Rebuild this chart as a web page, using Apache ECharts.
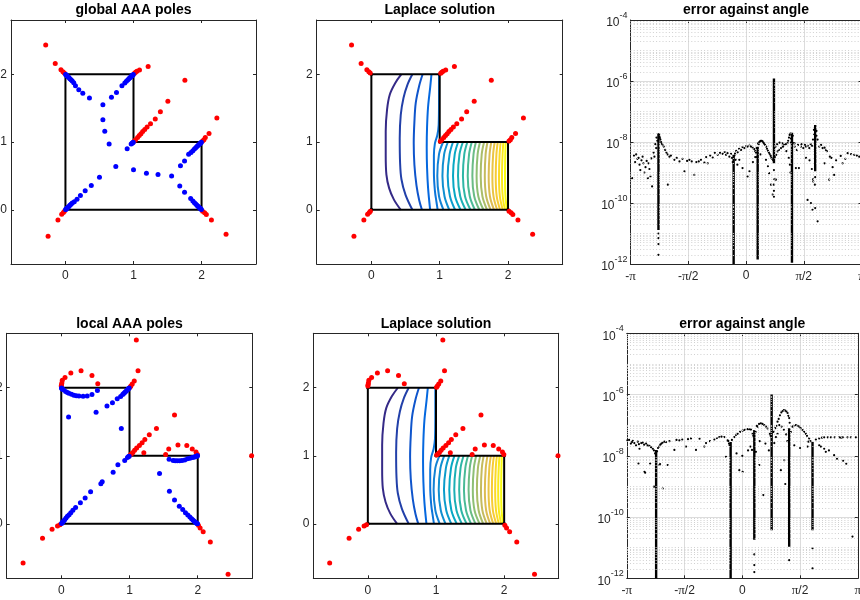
<!DOCTYPE html>
<html><head><meta charset="utf-8">
<script src="https://cdn.jsdelivr.net/npm/echarts@6/dist/echarts.min.js"></script>
<style>html,body{margin:0;padding:0;background:#fff}#c{width:860px;height:600px}</style>
</head><body><div id="c"></div>
<script>
// ---------------- data ----------------
const boundary = [[0,0],[2,0],[2,1],[1,1],[1,2],[0,2],[0,0]];
const coordTicks = [0,1,2];
const angleTicks = [-1,-0.5,0,0.5,1];            // angle / pi
const angleTickLabels = ['-π','-π/2','0','π/2','π'];

const globalRedPoles = [
 [-0.29,2.43],[-0.15,2.16],[-0.066,2.065],[-0.037,2.038],[-0.017,2.018],
 [1.015,2.015],[1.03,2.03],[1.05,2.045],[1.088,2.062],[1.215,2.115],
 [1.01,1.01],[1.03,1.035],[1.06,1.065],[1.085,1.095],[1.11,1.12],[1.135,1.155],[1.165,1.185],[1.2,1.22],[1.25,1.27],[1.32,1.34],[1.395,1.445],[1.505,1.6],[1.755,1.91],
 [2.015,1.015],[2.035,1.035],[2.055,1.065],[2.11,1.125],[2.225,1.355],
 [2.015,-0.02],[2.045,-0.045],[2.07,-0.07],[2.145,-0.15],[2.36,-0.36],
 [-0.015,-0.02],[-0.03,-0.04],[-0.055,-0.065],[-0.11,-0.15],[-0.255,-0.39]
];
const globalBluePoles = [
 [0.003,1.997],[0.008,1.992],[0.015,1.985],[0.025,1.975],[0.037,1.963],[0.05,1.95],[0.065,1.935],[0.082,1.918],[0.1,1.9],[0.122,1.875],[0.147,1.83],[0.196,1.77],[0.255,1.72],[0.353,1.65],[0.55,1.55],[0.55,1.33],[0.578,1.16],[0.642,0.97],
 [0.997,1.997],[0.99,1.99],[0.982,1.982],[0.972,1.972],[0.96,1.96],[0.947,1.947],[0.932,1.932],[0.915,1.915],[0.895,1.895],[0.872,1.872],[0.83,1.83],[0.75,1.73],[0.676,1.66],
 [0.996,0.996],[0.988,0.99],[0.978,0.982],[0.966,0.972],[0.907,0.9],
 [0.003,0.003],[0.008,0.008],[0.015,0.015],[0.025,0.025],[0.037,0.037],[0.05,0.05],[0.065,0.065],[0.082,0.08],[0.1,0.1],[0.13,0.12],[0.17,0.155],[0.22,0.21],[0.29,0.28],[0.38,0.36],[0.5,0.48],[0.74,0.64],
 [1.0,0.59],[1.19,0.54],[1.36,0.52],[1.56,0.5],
 [1.997,0.997],[1.99,0.99],[1.982,0.982],[1.972,0.972],[1.96,0.96],[1.947,0.947],[1.932,0.932],[1.915,0.915],[1.895,0.895],[1.872,0.872],[1.845,0.845],[1.81,0.82],[1.75,0.72],[1.69,0.65],
 [1.997,0.003],[1.99,0.01],[1.982,0.018],[1.972,0.028],[1.96,0.04],[1.947,0.053],[1.932,0.068],[1.915,0.085],[1.895,0.105],[1.872,0.128],[1.84,0.165],[1.75,0.26],[1.68,0.35]
];
const localRedPoles = [
 [1.1,2.7],[1.125,2.25],[1.07,2.1],[1.04,2.055],[1.02,2.025],[1.008,2.008],
 [0.0,2.025],[0.004,2.045],[0.008,2.07],[0.015,2.11],[0.055,2.15],[0.14,2.215],[0.29,2.25],[0.45,2.18],[0.535,2.06],
 [1.01,1.01],[1.03,1.03],[1.05,1.05],[1.075,1.08],[1.105,1.115],[1.145,1.15],[1.185,1.19],[1.225,1.24],[1.29,1.31],[1.395,1.4],[1.66,1.6],[1.21,1.045],
 [1.53,1.02],[1.575,1.1],[1.71,1.16],[1.84,1.15],[1.92,1.1],[1.975,1.055],[1.995,1.02],
 [2.79,1.0],
 [2.01,-0.02],[2.035,-0.06],[2.08,-0.115],[2.185,-0.265],[2.445,-0.74],
 [-0.02,-0.012],[-0.055,-0.03],[-0.135,-0.08],[-0.275,-0.21],[-0.56,-0.575]
];
const localBluePoles = [
 [0.003,1.998],[0.008,1.99],[0.015,1.98],[0.03,1.97],[0.063,1.945],[0.09,1.93],[0.112,1.92],[0.15,1.905],[0.185,1.89],[0.22,1.884],[0.259,1.878],[0.32,1.875],[0.38,1.88],[0.45,1.9],[0.53,1.96],
 [0.107,1.57],
 [0.995,1.995],[0.985,1.985],[0.975,1.975],[0.96,1.96],[0.945,1.945],[0.93,1.93],[0.915,1.915],[0.9,1.9],[0.87,1.87],[0.82,1.84],[0.75,1.78],[0.67,1.73],[0.51,1.64],
 [0.88,1.4],
 [0.995,0.995],[0.985,0.99],[0.97,0.975],[0.93,0.93],[0.83,0.87],[0.76,0.76],[0.6,0.62],[0.58,0.59],[0.43,0.47],[0.35,0.38],[0.28,0.31],[0.21,0.24],[0.17,0.2],[0.14,0.165],[0.115,0.135],[0.09,0.11],[0.07,0.085],[0.05,0.06],[0.035,0.042],[0.022,0.027],[0.012,0.015],[0.005,0.006],
 [1.997,0.999],[1.99,0.997],[1.98,0.993],[1.965,0.988],[1.945,0.98],[1.92,0.975],[1.885,0.965],[1.85,0.956],[1.81,0.94],[1.77,0.93],[1.735,0.926],[1.7,0.926],[1.67,0.928],[1.64,0.93],[1.58,0.95],
 [1.44,0.74],
 [1.585,0.48],[1.66,0.35],[1.73,0.26],[1.78,0.21],[1.82,0.165],[1.855,0.13],[1.885,0.1],[1.91,0.075],[1.93,0.056],[1.948,0.04],[1.963,0.027],[1.977,0.016],[1.988,0.007],[1.997,0.002]
];
// contour lines of the Laplace solution (x,y points, top to bottom)
const contourLines = [
 [[0.44,2],[0.35,1.87],[0.27,1.7],[0.23,1.48],[0.21,1.16],[0.21,0.81],[0.22,0.52],[0.26,0.32],[0.33,0.15],[0.43,0]],
 [[0.6,2],[0.53,1.85],[0.47,1.65],[0.43,1.4],[0.415,1.05],[0.42,0.7],[0.44,0.45],[0.5,0.22],[0.6,0]],
 [[0.75,2],[0.7,1.83],[0.65,1.58],[0.63,1.3],[0.62,0.98],[0.63,0.66],[0.66,0.36],[0.7,0.14],[0.74,0]],
 [[0.88,2],[0.86,1.8],[0.83,1.52],[0.815,1.22],[0.81,0.92],[0.815,0.62],[0.83,0.32],[0.86,0]],
 [[0.99,2],[0.99,1.6],[0.985,1.25],[0.965,1.1],[0.93,0.98],[0.915,0.8],[0.915,0.55],[0.93,0.28],[0.955,0.1],[0.97,0]],
 [[1.05,1],[0.99,0.82],[0.965,0.5],[0.99,0.2],[1.055,0]],
 [[1.12,1],[1.065,0.82],[1.04,0.5],[1.07,0.2],[1.14,0]],
 [[1.195,1],[1.145,0.82],[1.117,0.5],[1.15,0.2],[1.225,0]],
 [[1.27,1],[1.22,0.82],[1.195,0.5],[1.225,0.2],[1.305,0]],
 [[1.34,1],[1.29,0.82],[1.268,0.5],[1.3,0.2],[1.38,0]],
 [[1.405,1],[1.36,0.82],[1.34,0.5],[1.37,0.2],[1.45,0]],
 [[1.47,1],[1.43,0.82],[1.41,0.5],[1.44,0.2],[1.515,0]],
 [[1.53,1],[1.495,0.82],[1.478,0.5],[1.505,0.2],[1.58,0]],
 [[1.59,1],[1.555,0.82],[1.54,0.5],[1.565,0.2],[1.64,0]],
 [[1.65,1],[1.615,0.82],[1.6,0.5],[1.625,0.2],[1.693,0]],
 [[1.7,1],[1.672,0.82],[1.66,0.5],[1.68,0.2],[1.745,0]],
 [[1.755,1],[1.73,0.82],[1.717,0.5],[1.735,0.2],[1.795,0]],
 [[1.805,1],[1.782,0.82],[1.771,0.5],[1.787,0.2],[1.84,0]],
 [[1.85,1],[1.83,0.82],[1.82,0.5],[1.834,0.2],[1.883,0]],
 [[1.893,1],[1.877,0.82],[1.868,0.5],[1.88,0.2],[1.922,0]],
 [[1.932,1],[1.92,0.82],[1.912,0.5],[1.922,0.2],[1.956,0]],
 [[1.966,1],[1.96,0.82],[1.956,0.5],[1.962,0.2],[1.985,0]]
];
// error against angle (angle/pi, error) - global poles
const errGlobalDots = [
 [-0.986,6.5e-10],[-0.951,3.9e-9],[-0.94,2.8e-9],[-0.922,1.8e-9],[-0.905,2.5e-9],[-0.888,2.0e-9],[-0.87,1.5e-9],[-0.85,6.5e-10],[-0.836,1.3e-9],[-0.827,7.4e-10],[-0.813,3.5e-10],[-0.793,3.3e-9],[-0.778,6.3e-9],[-0.768,1.1e-8],
 [-0.97,3.6e-9],[-0.96,2.2e-9],[-0.93,3.0e-9],[-0.915,1.2e-9],[-0.895,3.3e-9],[-0.88,1.0e-9],[-0.86,2.4e-9],[-0.845,2.0e-9],[-0.82,2.9e-9],[-0.8,4.5e-9],[-0.785,8.5e-9],[-0.775,1.4e-8],
 [-0.749,1.5e-8],[-0.741,1.2e-8],[-0.729,8.7e-9],[-0.712,7.1e-9],[-0.689,4.5e-9],[-0.677,4.0e-10],[-0.663,3.3e-9],[-0.62,2.6e-9],[-0.576,2.3e-9],[-0.533,1.1e-9],[-0.49,2.6e-9],[-0.447,8.3e-10],[-0.409,2.3e-9],[-0.36,2.1e-9],[-0.331,2.0e-9],[-0.288,3.1e-9],[-0.245,3.8e-9],[-0.202,4.1e-9],[-0.173,3.8e-9],[-0.144,3.3e-9],[-0.13,4.1e-9],[-0.121,3.0e-9],[-0.115,2.2e-9],
 [-0.752,1.8e-8],[-0.745,1.35e-8],[-0.735,1.0e-8],[-0.72,7.8e-9],[-0.7,5.5e-9],[-0.68,3.9e-9],[-0.65,3.6e-9],[-0.6,3.0e-9],[-0.55,2.8e-9],[-0.51,2.4e-9],[-0.47,2.3e-9],[-0.43,2.2e-9],[-0.39,2.6e-9],[-0.345,3.2e-9],[-0.31,3.6e-9],[-0.27,4.4e-9],[-0.225,4.4e-9],[-0.185,4.7e-9],[-0.16,4.3e-9],
 [-0.095,4.2e-9],[-0.072,4.6e-9],[-0.058,2.6e-9],[-0.043,5.5e-9],[-0.014,6.3e-9],[0.014,7.1e-9],[0.014,7.4e-10],[0.043,7.1e-9],[0.072,5.8e-9],[0.086,4.5e-9],[0.094,3.2e-9],
 [-0.1,3.6e-9],[-0.085,5.1e-9],[-0.06,6.0e-9],[-0.03,6.8e-9],[0.0,7.4e-9],[0.03,7.6e-9],[0.057,6.6e-9],[0.08,5.0e-9],[0.092,6.3e-9],
 [-0.09,2.6e-9],[-0.075,1.8e-9],[-0.03,1.4e-9],[0.03,1.1e-9],[0.06,2.2e-9],[0.08,3.2e-9],
 [0.11,8.5e-9],[0.122,1.05e-8],[0.136,1.1e-8],[0.15,9.5e-9],[0.165,8.0e-9],[0.182,6.0e-9],[0.198,4.5e-9],[0.214,3.5e-9],[0.226,2.8e-9],[0.173,2.6e-9],[0.2,9.5e-10],[0.216,4.0e-10],[0.23,1.9e-10],[0.259,5.8e-10],
 [0.105,9.0e-9],[0.115,1.0e-8],[0.128,1.1e-8],[0.143,1.05e-8],[0.157,8.8e-9],[0.175,7.0e-9],[0.19,5.2e-9],[0.205,4.0e-9],[0.22,3.0e-9],[0.235,2.5e-9],[0.125,3.9e-9],[0.19,1.6e-9],
 [0.262,3.8e-9],[0.274,4.9e-9],[0.303,6.3e-9],[0.331,8.1e-9],[0.36,9.2e-9],[0.378,1.7e-8],[0.389,1.3e-8],[0.41,9.2e-9],[0.422,7.1e-9],[0.44,5.5e-9],[0.432,1.4e-9],[0.458,1.4e-9],
 [0.25,3.2e-9],[0.255,7.0e-9],[0.27,8.5e-9],[0.29,9.5e-9],[0.315,9.0e-9],[0.345,8.5e-9],[0.365,1.1e-8],[0.372,1.4e-8],[0.385,1.9e-8],[0.39,9.5e-9],[0.285,5.5e-9],[0.32,7.0e-9],[0.35,5.0e-9],[0.37,3.0e-9],[0.38,1.8e-9],[0.385,1.0e-9],
 [0.476,7.1e-9],[0.496,6.3e-9],[0.519,7.1e-9],[0.548,6.3e-9],[0.572,7.5e-9],[0.588,2.5e-8],[0.533,1.26e-10],[0.562,1.0e-10],[0.576,6.0e-11],[0.599,6.8e-11],[0.62,2.5e-11],[0.582,5.1e-10],
 [0.405,1.6e-8],[0.42,9.0e-9],[0.45,8.0e-9],[0.48,8.5e-9],[0.51,8.0e-9],[0.535,7.5e-9],[0.56,8.5e-9],[0.58,1.2e-8],[0.59,1.8e-8],[0.52,3.0e-9],[0.55,2.5e-9],[0.57,1.3e-9],[0.58,6.0e-10],
 [0.61,1.6e-8],[0.634,7.1e-9],[0.663,6.3e-9],[0.692,5.5e-9],[0.726,3.3e-9],[0.763,8.3e-10],[0.72,5.8e-10],[0.836,2.0e-9],[0.88,4.3e-9],[0.937,3.8e-9],[0.98,3.3e-9],
 [0.61,2.3e-8],[0.62,1.2e-8],[0.65,8.0e-9],[0.68,6.5e-9],[0.7,5.0e-9],[0.74,3.0e-9],[0.78,2.5e-9],[0.82,3.5e-9],[0.86,2.8e-9],[0.91,4.0e-9],[0.96,3.6e-9],[0.75,1.5e-9],[0.68,2.0e-9],
 [-0.758,1.0e-11],[-0.758,7e-12],[-0.758,4.5e-12],[-0.758,2.0e-12],[0.242,1.2e-9],[0.245,6e-10],[0.24,4e-10],[0.242,2.5e-10],[0.242,1.6e-10],[0.599,7e-10],[0.596,4e-10]
];
const errGlobalSpikes = [ // angle/pi, top, bottom of dense column
 [-0.758,1.9e-8,1.3e-11],[-0.107,3.8e-9,1e-12],[0.101,7.0e-9,1.4e-12],[0.242,1.2e-6,2.0e-9],[0.398,2.0e-8,1.1e-12],[0.599,3.6e-8,1.1e-9]
];
// error against angle - local poles
const errLocalDots = [
 [-0.98,3.3e-8],[-0.948,3.1e-8],[-0.905,2.9e-8],[-0.862,2.7e-8],[-0.833,2.5e-8],[-0.804,2.1e-8],[-0.775,1.7e-8],[-0.89,1.7e-8],[-0.965,2.5e-8],[-0.92,2.2e-8],
 [-0.995,3.2e-8],[-0.955,2.8e-8],[-0.935,2.6e-8],[-0.895,2.4e-8],[-0.875,2.6e-8],[-0.85,2.3e-8],[-0.82,2.2e-8],[-0.79,1.9e-8],[-0.765,1.5e-8],[-0.755,1.2e-8],
 [-0.847,3.0e-9],[-0.841,2.8e-9],[-0.798,5.6e-9],[-0.764,9.8e-10],[-0.899,5.6e-9],[-0.689,8.5e-10],[-0.718,5.0e-9],[-0.646,5.0e-9],[-0.712,5.4e-9],
 [-0.73,1.8e-8],[-0.71,2.3e-8],[-0.69,2.7e-8],[-0.674,2.9e-8],[-0.631,3.0e-8],[-0.588,1.55e-8],[-0.545,3.2e-8],[-0.487,2.0e-8],[-0.444,3.7e-8],[-0.401,1.55e-8],[-0.329,2.0e-8],[-0.314,2.6e-8],
 [-0.738,1.4e-8],[-0.72,2.0e-8],[-0.7,2.5e-8],[-0.66,2.8e-8],[-0.57,3.3e-8],[-0.52,3.4e-8],[-0.47,3.5e-8],[-0.37,3.6e-8],[-0.28,3.0e-8],[-0.22,3.8e-8],[-0.18,4.2e-8],[-0.12,3.0e-8],[-0.11,2.2e-8],
 [-0.242,3.4e-8],[-0.199,4.1e-8],[-0.156,4.1e-8],[-0.127,3.2e-8],[-0.141,9.3e-9],[-0.115,2.5e-8],[-0.026,3.4e-9],[0.003,3.0e-9],
 [-0.069,4.1e-8],[-0.04,5.2e-8],[0.003,6.6e-8],[0.046,7.4e-8],[0.075,7.2e-8],[0.089,5.2e-8],[0.118,1.35e-8],[0.084,1.55e-8],[0.147,5.0e-9],[0.182,5.2e-10],
 [-0.09,3.3e-8],[-0.055,4.8e-8],[-0.02,6.0e-8],[0.02,7.0e-8],[0.06,7.4e-8],[0.095,4.5e-8],[-0.05,1.2e-8],[0.0,1.0e-8],[0.05,1.5e-8],[0.07,2.0e-8],
 [0.115,6.0e-8],[0.133,8.9e-8],[0.161,1.15e-7],[0.19,1.0e-7],[0.219,7.8e-8],[0.239,5.2e-8],
 [0.125,9.5e-8],[0.145,1.1e-7],[0.175,1.1e-7],[0.205,9.0e-8],[0.245,4.5e-8],[0.15,3.0e-8],[0.2,2.5e-8],[0.23,1.5e-8],
 [0.277,2.6e-8],[0.291,4.1e-8],[0.305,5.2e-8],[0.305,1.3e-7],[0.326,2.1e-7],[0.349,2.9e-7],[0.372,3.0e-7],[0.392,2.5e-7],[0.406,1.7e-7],[0.363,7.2e-9],[0.334,3.4e-9],[0.372,1.2e-9],
 [0.315,1.6e-7],[0.338,2.6e-7],[0.36,3.1e-7],[0.382,2.8e-7],[0.398,2.0e-7],[0.41,1.2e-7],[0.27,6.0e-8],[0.285,8.0e-8],[0.3,9.5e-8],[0.32,1.0e-7],[0.34,9e-8],[0.36,7e-8],[0.38,5e-8],[0.39,3e-8],
 [0.42,6.0e-8],[0.435,8.9e-8],[0.464,1.0e-7],[0.493,8.9e-8],[0.522,6.9e-8],[0.55,5.2e-8],[0.579,3.7e-8],[0.565,2.0e-8],[0.573,2.9e-8],
 [0.445,9.5e-8],[0.48,9.5e-8],[0.505,8.0e-8],[0.535,6.0e-8],[0.56,4.5e-8],[0.59,3.0e-8],[0.45,2.2e-8],[0.5,1.8e-8],
 [0.637,3.4e-8],[0.666,3.7e-8],[0.709,4.0e-8],[0.74,4.0e-8],[0.767,4.0e-8],[0.8,4.0e-8],[0.839,4.0e-8],[0.87,4.0e-8],[0.911,4.0e-8],[0.94,4.0e-8],[0.983,4.0e-8],
 [0.69,3.9e-8],[0.855,3.9e-8],[0.68,2.0e-8],[0.75,1.5e-8],[0.82,8.0e-9],[0.9,5.5e-9],
 [0.666,2.2e-8],[0.709,1.7e-8],[0.723,1.35e-8],[0.795,1.05e-8],[0.873,6.9e-9],[0.954,2.3e-11],
 [0.104,6e-12],[0.104,2.7e-12],[0.104,1.6e-12],[0.406,3.9e-12],[0.608,9.5e-12],[0.608,2.1e-12]
];
const errLocalSpikes = [
 [-0.746,1.55e-8,1e-12],[-0.101,2.8e-8,1e-12],[0.104,6.9e-8,1.8e-11],[0.254,1.0e-6,3.7e-11],[0.406,8e-8,1.07e-11],[0.608,2.8e-8,3.7e-11]
];

// ---------------- styling helpers ----------------
const FONT = '"Liberation Sans", Arial, Helvetica, sans-serif';
const AX = '#262626';
const parulaKeys = [[53,42,135],[3,99,225],[20,133,212],[6,167,198],[56,185,158],[146,191,115],[217,186,86],[252,206,46],[249,251,14]];
function parula(t){
  const p = t*(parulaKeys.length-1); const i = Math.min(Math.floor(p), parulaKeys.length-2); const f = p-i;
  const a = parulaKeys[i], b = parulaKeys[i+1];
  return 'rgb(' + [0,1,2].map(k=>Math.round(a[k]+(b[k]-a[k])*f)).join(',') + ')';
}
const minorGrid = [];
for (let k=-12;k<-4;k++){ for (let m=1;m<=9;m++){ if (m===1 && k%2===0) continue; minorGrid.push(m*Math.pow(10,k)); } }

const grids = [
  {left:11, top:20, width:245, height:244},
  {left:316.7, top:20, width:246, height:244},
  {left:630.5, top:20, width:231, height:244},
  {left:6.7, top:333.3, width:245.6, height:245},
  {left:313.3, top:333.3, width:245.4, height:245},
  {left:626.8, top:333.3, width:231, height:245}
].map(g=>Object.assign({containLabel:false, outerBoundsMode:'none'}, g));

function poleAxis(dim, gi, pos, labels){
  return {type:'value', gridIndex:gi, position:pos, min:-0.8, max:2.8,
    axisLine:{show:true, onZero:false, lineStyle:{color:AX, width:1}},
    axisTick:{show:true, inside:true, length:3, customValues:coordTicks, lineStyle:{color:AX}},
    axisLabel:{show:labels, customValues:coordTicks, color:AX, fontSize:12, fontFamily:FONT, margin: dim==='x'?6:4},
    splitLine:{show:false}};
}
function angleAxis(gi, pos, labels){
  return {type:'value', gridIndex:gi, position:pos, min:-1, max:1, interval:0.5,
    axisLine:{show:true, onZero:false, lineStyle:{color:AX, width:1}},
    axisTick:{show:true, inside:true, length:3, lineStyle:{color:AX}},
    axisLabel:{show:labels, color:AX, fontSize:12, fontFamily:FONT, margin:6, showMinLabel:true, showMaxLabel:true,
      formatter:v=>{ const i = angleTicks.findIndex(a=>Math.abs(a-v)<1e-9); return i<0?'':angleTickLabels[i].replace('π','{p|π}'); },
      rich:{p:{fontFamily:'"Liberation Serif","Times New Roman",serif', fontSize:13, color:AX}}},
    splitLine:{show:labels, lineStyle:{color:'#dcdcdc', width:1}}};
}
function errAxis(gi, pos, labels){
  return {type:'log', logBase:100, gridIndex:gi, position:pos, min:1e-12, max:1e-4,
    axisLine:{show:true, onZero:false, lineStyle:{color:AX, width:1}},
    axisTick:{show:true, inside:true, length:3, lineStyle:{color:AX}},
    axisLabel:{show:labels, margin:3, showMinLabel:true, showMaxLabel:true,
      formatter:v=>'{b|10}{s|' + Math.round(Math.log10(v)) + '}',
      rich:{b:{fontSize:12, fontFamily:FONT, color:AX, lineHeight:18, verticalAlign:'bottom'},
            s:{fontSize:9, fontFamily:FONT, color:AX, lineHeight:10, verticalAlign:'top'}}},
    splitLine:{show:labels, lineStyle:{color:'#dcdcdc', width:1}}};
}

const xAxes = [], yAxes = [];
for (let gi=0; gi<6; gi++){
  const err = (gi===2 || gi===5);
  if (err){
    xAxes.push(angleAxis(gi,'bottom',true), angleAxis(gi,'top',false));
    yAxes.push(errAxis(gi,'left',true), errAxis(gi,'right',false));
  } else {
    xAxes.push(poleAxis('x',gi,'bottom',true), poleAxis('x',gi,'top',false));
    yAxes.push(poleAxis('y',gi,'left',true), poleAxis('y',gi,'right',false));
  }
}

const series = [];
function ax(gi){ return {xAxisIndex:2*gi, yAxisIndex:2*gi}; }
function boundarySeries(gi, dots){
  return Object.assign({type:'line', data:boundary, silent:true, symbol: dots?'circle':'none', symbolSize:3.5, showSymbol:dots,
    itemStyle:{color:'#000', opacity:1}, lineStyle:{color:'#000', width:2}, z:3}, ax(gi));
}
function poleSeries(gi, data, color, z){
  return Object.assign({type:'scatter', data:data, silent:true, symbol:'circle', symbolSize:5, itemStyle:{color:color, opacity:1}, z:z}, ax(gi));
}
function contourSeries(gi){
  return contourLines.map((ln,i)=>Object.assign({type:'line', data:ln, smooth:0.35, silent:true, symbol:'none',
    lineStyle:{color:parula(i/(contourLines.length-1)), width:2}, z:2}, ax(gi)));
}
function errorSeries(gi, dots, spikes){
  const out = [];
  out.push(Object.assign({type:'scatter', data:[[0,1e-8]], silent:true, symbolSize:0, itemStyle:{opacity:0}, z:1,
    markLine:{silent:true, symbol:['none','none'], label:{show:false}, animation:false, precision:20,
      lineStyle:{color:'#d0d0d0', type:[1,2.2], width:1}, emphasis:{disabled:true},
      data: minorGrid.map(v=>({yAxis:v}))}}, ax(gi)));
  spikes.forEach(s=>out.push(Object.assign({type:'line', data:[[s[0],s[1]],[s[0],s[2]]], silent:true, symbol:'none',
    lineStyle:{color:'#000', width:2.4}, z:3}, ax(gi))));
  out.push(Object.assign({type:'scatter', data:dots, silent:true, symbol:'circle', symbolSize:2.2, itemStyle:{color:'#000', opacity:1}, z:4}, ax(gi)));
  return out;
}

series.push(boundarySeries(0,false), poleSeries(0, globalRedPoles, '#ff0000', 4), poleSeries(0, globalBluePoles, '#0000ff', 5));
series.push(...contourSeries(1), boundarySeries(1,true), poleSeries(1, globalRedPoles, '#ff0000', 4));
series.push(...errorSeries(2, errGlobalDots, errGlobalSpikes));
series.push(boundarySeries(3,false), poleSeries(3, localRedPoles, '#ff0000', 4), poleSeries(3, localBluePoles, '#0000ff', 5));
series.push(...contourSeries(4), boundarySeries(4,true), poleSeries(4, localRedPoles, '#ff0000', 4));
series.push(...errorSeries(5, errLocalDots, errLocalSpikes));

function title(text, x, y){
  return {text:text, left:x, top:y, textAlign:'center', padding:0,
    textStyle:{fontSize:14, fontWeight:'bold', fontFamily:FONT, color:'#000'}};
}
const option = {
  animation:false,
  backgroundColor:'#fff',
  title:[
    title('global AAA poles', 133.5, 3), title('Laplace solution', 439.7, 3), title('error against angle', 746, 3),
    title('local AAA poles', 129.5, 317), title('Laplace solution', 436, 317), title('error against angle', 742.3, 317)
  ],
  grid: grids, xAxis: xAxes, yAxis: yAxes, series: series
};
const chart = echarts.init(document.getElementById('c'), null, {renderer:'canvas'});
chart.setOption(option);
</script>
</body></html>
